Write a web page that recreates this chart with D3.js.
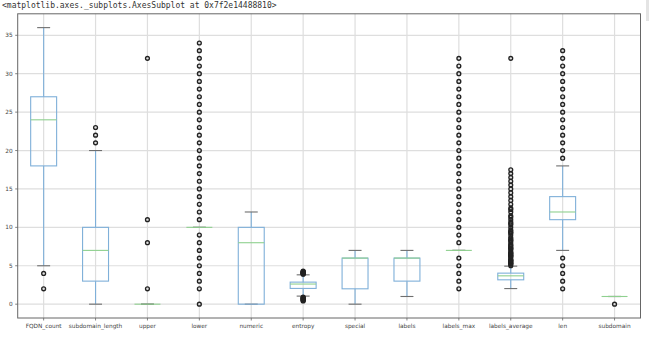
<!DOCTYPE html>
<html><head><meta charset="utf-8">
<script src="https://cdn.jsdelivr.net/npm/d3@7"></script>
<style>body{margin:0;background:#fff;}svg{display:block;}</style>
</head><body>
<script>
const categories = ["FQDN_count","subdomain_length","upper","lower","numeric","entropy","special","labels","labels_max","labels_average","len","subdomain"];
const q1s       = [18, 3, 0, 10, 0, 2.05, 2, 3, 7, 3.17, 11, 1];
const medians   = [24, 7, 0, 10, 8, 2.62, 6, 6, 7, 3.69, 12, 1];
const q3s       = [27, 10, 0, 10, 10, 2.87, 6, 6, 7, 4.04, 14, 1];
const whiskLow  = [5, 0, 0, 10, 0, 1.05, 0, 1, 7, 2.03, 7, 1];
const whiskHigh = [36, 20, 0, 10, 12, 3.82, 7, 7, 7, 4.95, 18, 1];
const fliersFQDN = [4, 2];
const fliersSub = [21, 22, 23];
const fliersUpper = [2, 8, 11, 32];
const fliersLower = [0,2,3,4,5,6,7,8,9,11,12,13,14,15,16,17,18,19,20,21,22,23,24,25,26,27,28,29,30,31,32,33,34];
const fliersNumeric = [];
const fliersEntropy = [0.42,0.5,0.58,0.65,0.72,0.8,0.87,0.93,3.9,3.95,4.0,4.05,4.1,4.15,4.2,4.25,4.3];
const fliersSpecial = [];
const fliersLabels = [];
const fliersLabelsMax = [2,3,4,5,6,8,9,10,11,12,13,14,15,16,17,18,19,20,21,22,23,24,25,26,27,28,29,30,31,32];
const fliersLabelsAvg = [5.0,5.2,5.25,5.33,5.4,5.5,5.6,5.67,5.75,5.8,6.0,6.2,6.25,6.33,6.4,6.5,6.6,6.67,6.75,7.0,7.2,7.25,7.33,7.5,7.67,7.75,8.0,8.25,8.33,8.5,8.67,9.0,9.25,9.33,9.5,9.67,10.0,10.33,10.5,10.67,11.0,11.33,11.5,12.0,12.33,12.5,13.0,13.5,14.0,14.5,15.0,15.5,16.0,16.5,17.0,17.5,32];
const fliersLen = [2,3,4,5,6,19,20,21,22,23,24,25,26,27,28,29,30,31,32,33];
const fliersSubdomain = [0];
const fliers = [fliersFQDN,fliersSub,fliersUpper,fliersLower,fliersNumeric,fliersEntropy,fliersSpecial,fliersLabels,fliersLabelsMax,fliersLabelsAvg,fliersLen,fliersSubdomain];
const yTicks = [0,5,10,15,20,25,30,35];
const titleText = "<matplotlib.axes._subplots.AxesSubplot at 0x7f2e14488810>";

const W = 649, H = 337;
const L = 17.7, R = 640.5, T = 13.8, B = 318;
const svg = d3.select("body").append("svg").attr("width", W).attr("height", H);

svg.append("rect").attr("x",646).attr("y",0).attr("width",3).attr("height",21).attr("fill","#e4e4e4");

svg.append("text").attr("x",2).attr("y",8.2).attr("font-family","DejaVu Sans Mono, monospace")
  .attr("font-size",8).attr("fill","#333").text(titleText);

const x = d3.scaleLinear().domain([0.5, categories.length + 0.5]).range([L, R]);
const y = d3.scaleLinear().domain([-1.8, 37.8]).range([B, T]);
const unit = x(2) - x(1);

const g = svg.append("g");
// grid
g.selectAll(".gy").data(yTicks).enter().append("line")
  .attr("x1",L).attr("x2",R).attr("y1",d=>y(d)).attr("y2",d=>y(d))
  .attr("stroke","#dedede").attr("stroke-width",1.2);
g.selectAll(".gx").data(categories).enter().append("line")
  .attr("x1",(d,i)=>x(i+1)).attr("x2",(d,i)=>x(i+1)).attr("y1",T).attr("y2",B)
  .attr("stroke","#dedede").attr("stroke-width",1.2);

const boxColor = "#7fb0d9", medColor = "#8fd08f", capColor = "#6e6e6e";
categories.forEach((c,i) => {
  const cx = x(i+1), bw = unit*0.5, cw = unit*0.25;
  const gg = g.append("g");
  // whiskers
  gg.append("line").attr("x1",cx).attr("x2",cx).attr("y1",y(q1s[i])).attr("y2",y(whiskLow[i])).attr("stroke",boxColor).attr("stroke-width",1.1);
  gg.append("line").attr("x1",cx).attr("x2",cx).attr("y1",y(q3s[i])).attr("y2",y(whiskHigh[i])).attr("stroke",boxColor).attr("stroke-width",1.1);
  // caps
  [whiskLow[i], whiskHigh[i]].forEach(v => {
    gg.append("line").attr("x1",cx-cw/2).attr("x2",cx+cw/2).attr("y1",y(v)).attr("y2",y(v)).attr("stroke",capColor).attr("stroke-width",1.1);
  });
  // box
  gg.append("rect").attr("x",cx-bw/2).attr("width",bw).attr("y",y(q3s[i])).attr("height",Math.max(0,y(q1s[i])-y(q3s[i])))
    .attr("fill","none").attr("stroke",boxColor).attr("stroke-width",1.1);
  // median
  gg.append("line").attr("x1",cx-bw/2).attr("x2",cx+bw/2).attr("y1",y(medians[i])).attr("y2",y(medians[i])).attr("stroke",medColor).attr("stroke-width",1.1);
  // fliers
  gg.selectAll("circle").data(fliers[i]).enter().append("circle")
    .attr("cx",cx).attr("cy",d=>y(d)).attr("r",1.9).attr("fill","none").attr("stroke","#222").attr("stroke-width",1.4);
});

// spines
svg.append("rect").attr("x",L).attr("y",T).attr("width",R-L).attr("height",B-T).attr("fill","none").attr("stroke","#666").attr("stroke-width",1);

// y ticks
yTicks.forEach(t => {
  svg.append("line").attr("x1",L-2.5).attr("x2",L).attr("y1",y(t)).attr("y2",y(t)).attr("stroke","#666").attr("stroke-width",0.8);
  svg.append("text").attr("x",L-5).attr("y",y(t)).attr("dy","0.35em").attr("text-anchor","end")
    .attr("font-family","DejaVu Sans, sans-serif").attr("font-size",5.8).attr("fill","#444").text(t);
});
// x ticks
categories.forEach((c,i) => {
  svg.append("line").attr("x1",x(i+1)).attr("x2",x(i+1)).attr("y1",B).attr("y2",B+2.5).attr("stroke","#666").attr("stroke-width",0.8);
  svg.append("text").attr("x",x(i+1)).attr("y",B+7.5).attr("dy","0.35em").attr("text-anchor","middle")
    .attr("font-family","DejaVu Sans, sans-serif").attr("font-size",5.8).attr("fill","#444").text(c);
});
</script>
</body></html>
